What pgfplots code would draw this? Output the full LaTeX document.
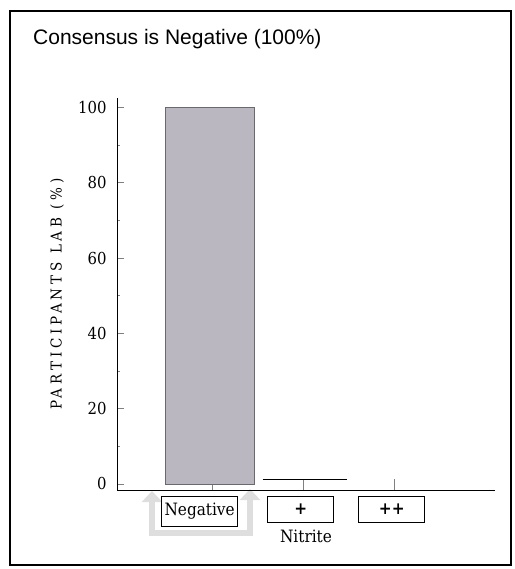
\documentclass[border=0pt]{standalone}
\usepackage{fontspec}
\setmainfont{DejaVu Serif Condensed}
\newfontfamily\titlefont{Liberation Sans}
\usepackage{pgfplots}
\pgfplotsset{compat=1.18}
\usetikzlibrary{arrows.meta}

\definecolor{barfill}{RGB}{186,183,193}
\definecolor{baredge}{RGB}{105,105,110}
\definecolor{arrowgray}{RGB}{222,222,222}

\begin{document}
\begin{tikzpicture}
\useasboundingbox (0,0) rectangle (514pt,-569pt);
% Rahmen und Titel
\draw[line width=1.3pt] (10pt,-11pt) rectangle (511pt,-565pt);
\node[anchor=base west, inner sep=0pt, font=\titlefont\fontsize{21pt}{25pt}\selectfont]
  at (33pt,-45pt) {Consensus is Negative (100\%)};
% graue Pfeile um "Negative"
\draw[arrowgray, line width=6pt,
  {Triangle[width=20pt,length=11pt]}-{Triangle[width=20pt,length=11pt]}]
  (152pt,-491pt) -- (152pt,-533pt) -- (250pt,-533pt) -- (250pt,-489pt);

\begin{axis}[
    at={(117pt,-490pt)}, anchor=south west,
    scale only axis,
    width=378pt, height=392pt,
    xmin=-1.05, xmax=3.1,
    ymin=-1.6, ymax=102.5,
    axis x line=bottom, axis y line=left,
    axis line style={-, line width=1pt},
    tick align=inside,
    xtick={1,2},
    xticklabels={\textbf{+},\textbf{++}},
    extra x ticks={0},
    extra x tick labels={Negative},
    extra x tick style={xticklabel style={xshift=-10pt, minimum width=76pt, minimum height=30pt}},
    ytick={0,20,...,100},
    minor ytick={10,30,...,90},
    major tick length=7pt,
    minor tick length=3pt,
    xtick style={line width=1pt, /pgfplots/major tick length=11pt},
    ytick style={line width=0.8pt},
    minor tick style={gray, line width=0.5pt},
    /pgf/number format/assume math mode=true,
    yticklabel style={font=\fontsize{16.5pt}{19pt}\selectfont, xshift=-7pt},
    xticklabel style={font=\fontsize{17pt}{20pt}\selectfont, draw, line width=0.8pt,
      minimum width=66pt, minimum height=26pt, inner sep=2pt, anchor=north, yshift=-6pt,
      xshift=-3pt},
    xlabel={Nitrite},
    xlabel style={at={(axis description cs:0.5,0)}, anchor=base, yshift=-52pt,
      font=\fontsize{17pt}{20pt}\selectfont},
    ylabel={PARTICIPANTS LAB (\%)},
    ylabel style={at={(axis description cs:0,0.5)}, anchor=center, yshift=60pt,
      font=\fontsize{15pt}{18pt}\selectfont\addfontfeature{LetterSpace=26}},
    clip=false,
]
\addplot[ybar, bar width=0.97, fill=barfill, draw=baredge, line width=0.6pt]
  coordinates {(-0.03,100)};
\addplot[black, line width=0.9pt] coordinates {(0.55,1.3) (1.48,1.3)};
\end{axis}
\end{tikzpicture}
\end{document}
